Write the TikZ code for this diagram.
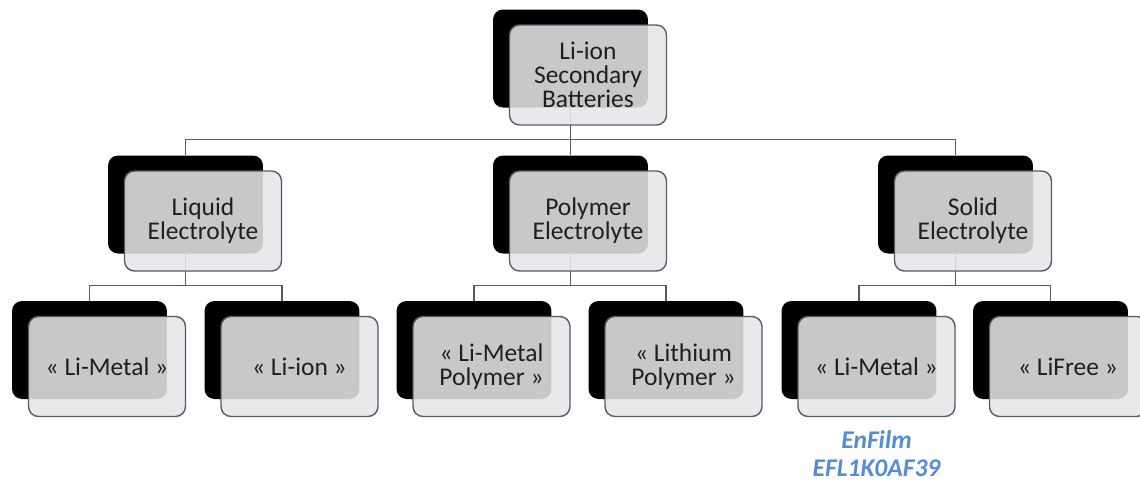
\documentclass[tikz,border=0pt]{standalone}
\usepackage{fontspec}
\setmainfont{Carlito}
\usepackage{tikz}
\usepackage{xcolor}
\usetikzlibrary{positioning, calc, backgrounds}
\definecolor{cLine}{RGB}{82,92,104}
\definecolor{cFront}{RGB}{230,230,232}
\definecolor{cNote}{RGB}{84,141,212}
\tikzset{
    backbox/.style ={rectangle, rounded corners=0.2cm, minimum width=3.1cm, minimum height=1.96cm, inner sep=0pt, fill=black},
    frontbox/.style={rectangle, rounded corners=0.2cm, minimum width=3.14cm, minimum height=2cm, inner sep=0pt, text centered, align=center, draw=cLine, line width=0.8pt, fill=cFront, fill opacity=0.87, text opacity=1, text=black!88, font=\fontsize{14.5}{13.7}\selectfont},
    note/.style    ={align=center, text=cNote, font=\fontsize{14.5}{16}\selectfont\bfseries\itshape},
    link/.style    ={draw=cLine, line width=0.7pt},
}

\begin{document}
\begin{tikzpicture}[x=0.02cm, y=-0.02cm]
            \useasboundingbox (0,0) rectangle (1140,485);
            % back boxes
            \node[backbox] (rootB) at (570.5,58.5) {};
            \node[backbox] (liquidB) at (185.5,204.5) {};
            \node[backbox] (polymerB) at (570.5,204.5) {};
            \node[backbox] (solidB) at (955.5,204.5) {};
            \node[backbox] (liqMetalB) at (89.5,350) {};
            \node[backbox] (liqIonB) at (282,350) {};
            \node[backbox] (polMetalB) at (474,350) {};
            \node[backbox] (polLithB) at (666,350) {};
            \node[backbox] (solMetalB) at (859,350) {};
            \node[backbox] (solFreeB) at (1050.5,350) {};
            % front boxes
            \node[frontbox] (root) at ($(rootB)+(17.5,16.5)$) {Li-ion\\Secondary\\Batteries};
            \node[frontbox] (liquid) at ($(liquidB)+(17.5,16.5)$) {Liquid\\Electrolyte};
            \node[frontbox] (polymer) at ($(polymerB)+(17.5,16.5)$) {Polymer\\Electrolyte};
            \node[frontbox] (solid) at ($(solidB)+(17.5,16.5)$) {Solid\\Electrolyte};
            \node[frontbox] (liqMetal) at ($(liqMetalB)+(17.5,16.5)$) {« Li-Metal »};
            \node[frontbox] (liqIon) at ($(liqIonB)+(17.5,16.5)$) {« Li-ion »};
            \node[frontbox] (polMetal) at ($(polMetalB)+(17.5,16.5)$) {« Li-Metal\\Polymer »};
            \node[frontbox] (polLith) at ($(polLithB)+(17.5,16.5)$) {« Lithium\\Polymer »};
            \node[frontbox] (solMetal) at ($(solMetalB)+(17.5,16.5)$) {« Li-Metal »};
            \node[frontbox] (solFree) at ($(solFreeB)+(17.5,16.5)$) {« LiFree »};
            \node[note, below=0.14cm of solMetal] (enfilm) {EnFilm\\EFL1K0AF39};
            % connectors
            \begin{scope}[on background layer]
                \draw[link](rootB.south) -- ++(0,31.5) -| (liquidB.north);
                \draw[link](rootB.south) -- (polymerB.north);
                \draw[link](rootB.south) -- ++(0,31.5) -| (solidB.north);
                \draw[link](liquidB.south) -- ++(0,32) -| (liqMetalB.north);
                \draw[link](liquidB.south) -- ++(0,32) -| (liqIonB.north);
                \draw[link](polymerB.south) -- ++(0,32) -| (polMetalB.north);
                \draw[link](polymerB.south) -- ++(0,32) -| (polLithB.north);
                \draw[link](solidB.south) -- ++(0,32) -| (solMetalB.north);
                \draw[link](solidB.south) -- ++(0,32) -| (solFreeB.north);
            \end{scope}
        \end{tikzpicture}
\end{document}
